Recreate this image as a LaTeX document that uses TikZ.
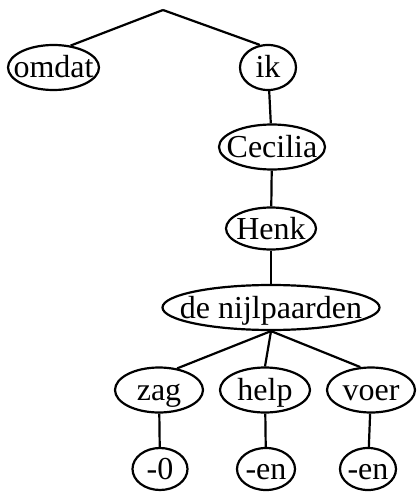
\documentclass[tikz,border=0pt]{standalone}
\usepackage{fontspec}
\setmainfont{Liberation Serif}
\usetikzlibrary{shapes.geometric}
\newcommand{\wlabel}[1]{\makebox[0pt]{#1}}

\begin{document}
\begin{tikzpicture}[x=1pt, y=-1pt, line width=2.2pt,
  word/.style={draw, ellipse, inner sep=0pt, minimum height=45, minimum width=#1,
    font=\fontsize{32}{32}\selectfont, text height=21pt, text depth=0pt}]
\useasboundingbox (0,0) rectangle (416,494);
\coordinate (top) at (163,10);
\node[word=91]  (omdat)   at (53.5,67.5) {\wlabel{omdat}};
\node[word=56]  (ik)      at (268,67.5)  {\wlabel{ik}};
\node[word=106] (Cecilia) at (272,147)   {\wlabel{Cecilia}};
\node[word=90, minimum height=42] (Henk) at (271,228.5) {\wlabel{Henk}};
\node[word=217] (dnp)     at (271,307.5) {\wlabel{de nijlpaarden}};
\node[word=88]  (zag)     at (159,390)   {\wlabel{zag}};
\node[word=90]  (help)    at (265,390)   {\wlabel{help}};
\node[word=88]  (voer)    at (371,390)   {\wlabel{voer}};
\node[word=55, minimum height=42] (zero) at (160,469) {\wlabel{-0}};
\node[word=58, minimum height=42] (enA)  at (266,469) {\wlabel{-en}};
\node[word=56, minimum height=42] (enB)  at (368,469) {\wlabel{-en}};
% edges
\draw (top) -- (omdat.52);
\draw (top) -- (ik.110);
\draw (ik) -- (Cecilia);
\draw (Cecilia) -- (Henk);
\draw (Henk) -- (dnp);
\draw (dnp.south) -- (zag.50);
\draw (dnp.south) -- (help.north);
\draw (dnp.south) -- (voer.115);
\draw (zag) -- (zero);
\draw (help) -- (enA);
\draw (voer) -- (enB);
\end{tikzpicture}
\end{document}
